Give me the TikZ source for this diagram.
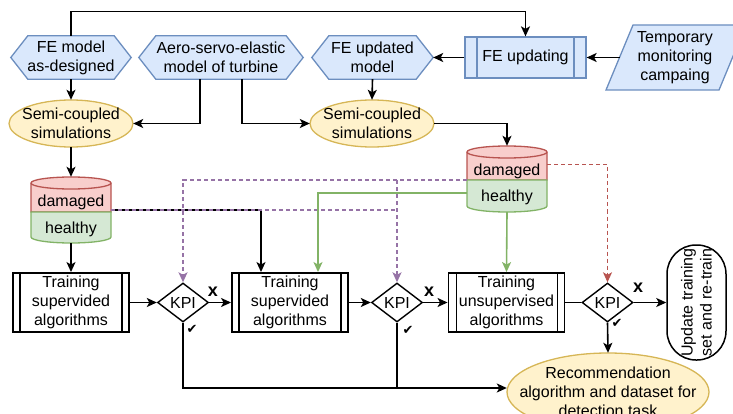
\documentclass[tikz,border=0pt]{standalone}
\usepackage{fontspec}
\setmainfont{Liberation Sans}
\newfontfamily\symfont{DejaVu Sans}
\usetikzlibrary{shapes.geometric,arrows.meta,backgrounds,calc}
\definecolor{bluef}{HTML}{DAE8FC}\definecolor{bluel}{HTML}{6C8EBF}
\definecolor{yelf}{HTML}{FFF2CC}\definecolor{yell}{HTML}{D6B656}
\definecolor{redf}{HTML}{F8CECC}\definecolor{redl}{HTML}{B85450}
\definecolor{grnf}{HTML}{D5E8D4}\definecolor{grnl}{HTML}{82B366}
\definecolor{purl}{HTML}{9673A6}
\newcommand{\hexshape}[2]{%
  \filldraw[draw=bluel, fill=bluef, line width=1.3pt] (#1.west) -- ([xshift=#2]#1.north west) -- ([xshift=-#2]#1.north east) -- (#1.east) -- ([xshift=-#2]#1.south east) -- ([xshift=#2]#1.south west) -- cycle;}
\newcommand{\ellshape}[3]{%
  \filldraw[draw=yell, fill=yelf, line width=1.3pt] (#1.center) ellipse [x radius=#2, y radius=#3];}
\begin{document}
\begin{tikzpicture}[x=1pt,y=-1pt,font=\fontsize{16}{19}\selectfont,
  txt/.style={align=center, inner sep=0pt},
  hexnode/.style={txt, minimum height=43pt, minimum width=#1},
  ell/.style={txt, minimum width=#1, minimum height=47pt},
  proc/.style={draw, line width=1.9pt, minimum width=116pt, minimum height=59pt, align=center, inner sep=0pt, fill=white,
    path picture={\draw[line width=1.6pt] ([xshift=#1]path picture bounding box.north west) -- ([xshift=#1]path picture bounding box.south west);
                  \draw[line width=1.6pt] ([xshift=-7pt]path picture bounding box.north east) -- ([xshift=-7pt]path picture bounding box.south east);}},
  proc/.default=7pt,
  feproc/.style={draw=bluel, fill=bluef, line width=1.3pt, minimum width=121pt, minimum height=41pt, inner sep=0pt,
    path picture={\draw[bluel, line width=1.3pt] ([xshift=12pt]path picture bounding box.north west) -- ([xshift=12pt]path picture bounding box.south west);
                  \draw[bluel, line width=1.3pt] ([xshift=-12pt]path picture bounding box.north east) -- ([xshift=-12pt]path picture bounding box.south east);}},
  kpi/.style={diamond, draw, line width=1.4pt, minimum width=51pt, minimum height=39pt, inner sep=0pt, fill=white},
  tip/.style={-{Stealth[length=10pt,width=9pt,inset=2.5pt]}},
  arr/.style={tip, line width=1.6pt},
  purp/.style={draw=purl, line width=1.4pt, dash pattern=on 4pt off 3pt},
  purparr/.style={purp, -{Stealth[length=10pt,width=9pt,inset=2.5pt,fill=purl]}},
  redarr/.style={draw=redl, line width=1.4pt, dash pattern=on 4pt off 3pt, -{Stealth[length=10pt,width=9pt,inset=2.5pt,fill=redl]}},
  grnarr/.style={draw=grnl, line width=1.6pt, -{Stealth[length=10pt,width=9pt,inset=2.5pt,fill=grnl]}},
  lab/.style={inner sep=0pt, font=\fontsize{18}{19}\selectfont\bfseries},
  chk/.style={inner sep=0pt, font=\symfont\fontsize{13}{14}\selectfont}
]
\useasboundingbox (0,0) rectangle (733,414);

% top row
\node[hexnode=120pt] (fe) at (71,57.5) {FE model\\as-designed};
\node[hexnode=164pt] (aero) at (221,57.5) {Aero-servo-elastic\\model of turbine};
\node[hexnode=121pt] (feupd) at (372.5,57.5) {FE updated\\model};
\node[feproc] (feup) at (525.5,57.5) {FE updating};
\node[txt] (tmp) at (675,58) {Temporary\\monitoring\\campaing};
\coordinate (tmpin) at (619.5,57.5);

% simulations
\node[ell=124pt] (lsim) at (71,123.5) {Semi-coupled\\simulations};
\node[ell=124pt] (rsim) at (372,123.5) {Semi-coupled\\simulations};

% cylinders (frames)
\node[minimum width=80pt, minimum height=66pt, inner sep=0pt] (cylL) at (71,210) {};
\node[minimum width=80pt, minimum height=66pt, inner sep=0pt] (cylR) at (507,179) {};

% training row
\node[proc] (box1) at (71,302.5) {Training\\supervided\\algorithms};
\node[kpi] (kpi1) at (183,302.5) {KPI};
\node[proc] (box2) at (290,302.5) {Training\\supervided\\algorithms};
\node[kpi] (kpi2) at (397,302.5) {KPI};
\node[proc=8pt] (box3) at (506.5,302.5) {Training\\unsupervised\\algorithms};
\node[kpi] (kpi3) at (607.5,302.5) {KPI};
\node[draw, line width=1.5pt, rounded corners=29pt, rotate=90, minimum width=115pt, minimum height=59pt, inner sep=0pt, align=center] (upd) at (696.5,302.5) {Update training\\set and re-train};
\node[txt, minimum width=202pt, minimum height=78pt] (rec) at (608,392) {Recommendation\\algorithm and dataset for\\detection task};

\begin{pgfonlayer}{background}
  \hexshape{fe}{17pt}
  \hexshape{aero}{17pt}
  \hexshape{feupd}{17pt}
  \ellshape{lsim}{62pt}{23.5pt}
  \ellshape{rsim}{62pt}{23.5pt}
  \ellshape{rec}{101pt}{39pt}
  \filldraw[draw=bluel, fill=bluef, line width=1.3pt] (633,25) -- (746,25) -- (719,90) -- (606,90) -- cycle;
  % left cylinder
  \filldraw[draw=redl, fill=redf, line width=1.3pt] (31,183) -- (31,212) -- (111,212) -- (111,183) arc[start angle=0, end angle=180, x radius=40pt, y radius=6pt] -- cycle;
  \draw[redl, line width=1.3pt] (31,183) arc[start angle=180, end angle=360, x radius=40pt, y radius=6pt];
  \filldraw[draw=grnl, fill=grnf, line width=1.3pt] (31,212) -- (31,237) arc[start angle=180, end angle=360, x radius=40pt, y radius=6pt] -- (111,212) -- cycle;
  % right cylinder
  \filldraw[draw=redl, fill=redf, line width=1.3pt] (467,152) -- (467,180) -- (547,180) -- (547,152) arc[start angle=0, end angle=180, x radius=40pt, y radius=6pt] -- cycle;
  \draw[redl, line width=1.3pt] (467,152) arc[start angle=180, end angle=360, x radius=40pt, y radius=6pt];
  \filldraw[draw=grnl, fill=grnf, line width=1.3pt] (467,180) -- (467,206) arc[start angle=180, end angle=360, x radius=40pt, y radius=6pt] -- (547,180) -- cycle;
\end{pgfonlayer}

\node[txt] (ldam) at (71,202) {damaged};
\node[txt] (lhea) at (71,229) {healthy};
\node[txt] (rdam) at (507,171) {damaged};
\node[txt] (rhea) at (507,197) {healthy};

% connectors: top
\draw[arr] (fe.north) |- ($(feup.north)+(0,-25)$) -- (feup.north);
\draw[arr] (tmpin) -- (feup.east);
\draw[arr] (feup.west) -- (feupd.east);
\draw[arr] (fe.south) -- (lsim.north);
\draw[arr] (feupd.south) -- (rsim.north);
\draw[arr] ($(aero.south)+(-21,0)$) |- (lsim.east);
\draw[arr] ($(aero.south)+(21,0)$) |- (rsim.west);
\draw[arr] (rsim.east) -| (cylR.north);
\draw[arr] (lsim.south) -- (cylL.north);
\draw[arr] (cylL.south) -- (box1.north);

% coloured connectors
\draw[arr] (cylL.east) -| ($(box2.north)+(-29,0)$);
\draw[purp] (cylL.east) -- (cylL.east -| kpi2.north);
\draw[purparr] ($(cylR.west)+(0,1)$) -| (kpi2.north);
\draw[purparr] ($(cylR.west)+(0,1)$) -| (kpi1.north);
\draw[grnarr] ($(cylR.north west)+(0,47)$) -| ($(box2.north)+(28,0)$);
\draw[grnarr] (cylR.south) -- (box3.north);
\draw[redarr] ($(cylR.north east)+(0,19)$) -| (kpi3.north);

% training row connectors
\draw[arr] (box1.east) -- (kpi1.west);
\draw[arr] (kpi1.east) -- (box2.west);
\draw[arr] (box2.east) -- (kpi2.west);
\draw[arr] (kpi2.east) -- (box3.west);
\draw[line width=1.6pt] (box3.east) -- (kpi3.west);
\draw[arr] (kpi3.east) -- (kpi3.east -| upd.north);
\draw[arr] (kpi1.south) |- ($(rec.west)+(0,-4)$);
\draw[line width=1.6pt] (kpi2.south) -- (kpi2.south |- 0,388);
\draw[arr] (kpi3.south) -- (rec.north);

% labels
\node[lab] (x1) at (213,292) {x};
\node[lab] (x2) at (429,292) {x};
\node[lab] (x3) at (638,288) {x};
\node[chk] (c1) at (192,329) {✔};
\node[chk] (c2) at (408,330) {✔};
\node[chk] (c3) at (617,323) {✔};
\end{tikzpicture}
\end{document}
